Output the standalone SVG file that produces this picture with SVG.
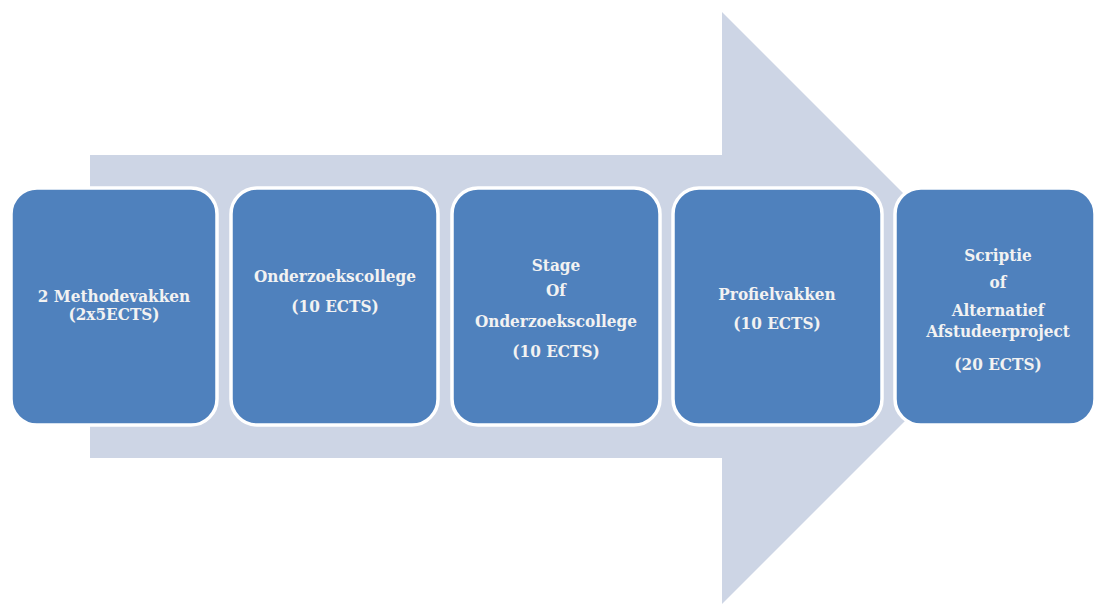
<svg xmlns="http://www.w3.org/2000/svg" width="1097" height="605" viewBox="0 0 1097 605">
<style>
.box{fill:#4f81bd;stroke:#ffffff;stroke-width:3.5}
.t{font-family:"DejaVu Serif Condensed","DejaVu Serif","Liberation Serif",serif;font-stretch:condensed;font-weight:bold;font-size:17px;fill:#f2f2f2;text-anchor:middle}
</style>
<rect width="1097" height="605" fill="#ffffff"/>
<g id="connectors">
<polygon points="90,155 722,155 722,12 1018,308 722,604 722,458 90,458" fill="#cdd5e5"/>
</g>
<g id="n1"><rect class="box" x="11" y="188" width="206" height="237" rx="26"/>
<text class="t" x="114" y="302">2 Methodevakken</text><text class="t" x="114" y="320">(2x5ECTS)</text></g>
<g id="n2"><rect class="box" x="231" y="188" width="207" height="237" rx="26"/>
<text class="t" x="335" y="282">Onderzoekscollege</text><text class="t" x="335" y="312">(10 ECTS)</text></g>
<g id="n3"><rect class="box" x="452" y="188" width="208" height="237" rx="26"/>
<text class="t" x="556" y="271">Stage</text><text class="t" x="556" y="296">Of</text><text class="t" x="556" y="327">Onderzoekscollege</text><text class="t" x="556" y="357">(10 ECTS)</text></g>
<g id="n4"><rect class="box" x="673" y="188" width="209" height="237" rx="26"/>
<text class="t" x="777" y="300">Profielvakken</text><text class="t" x="777" y="329">(10 ECTS)</text></g>
<g id="n5"><rect class="box" x="895" y="188" width="200" height="237" rx="26"/>
<text class="t" x="998" y="261">Scriptie</text><text class="t" x="998" y="288">of</text><text class="t" x="998" y="316">Alternatief</text><text class="t" x="998" y="337">Afstudeerproject</text><text class="t" x="998" y="370">(20 ECTS)</text></g>
</svg>
